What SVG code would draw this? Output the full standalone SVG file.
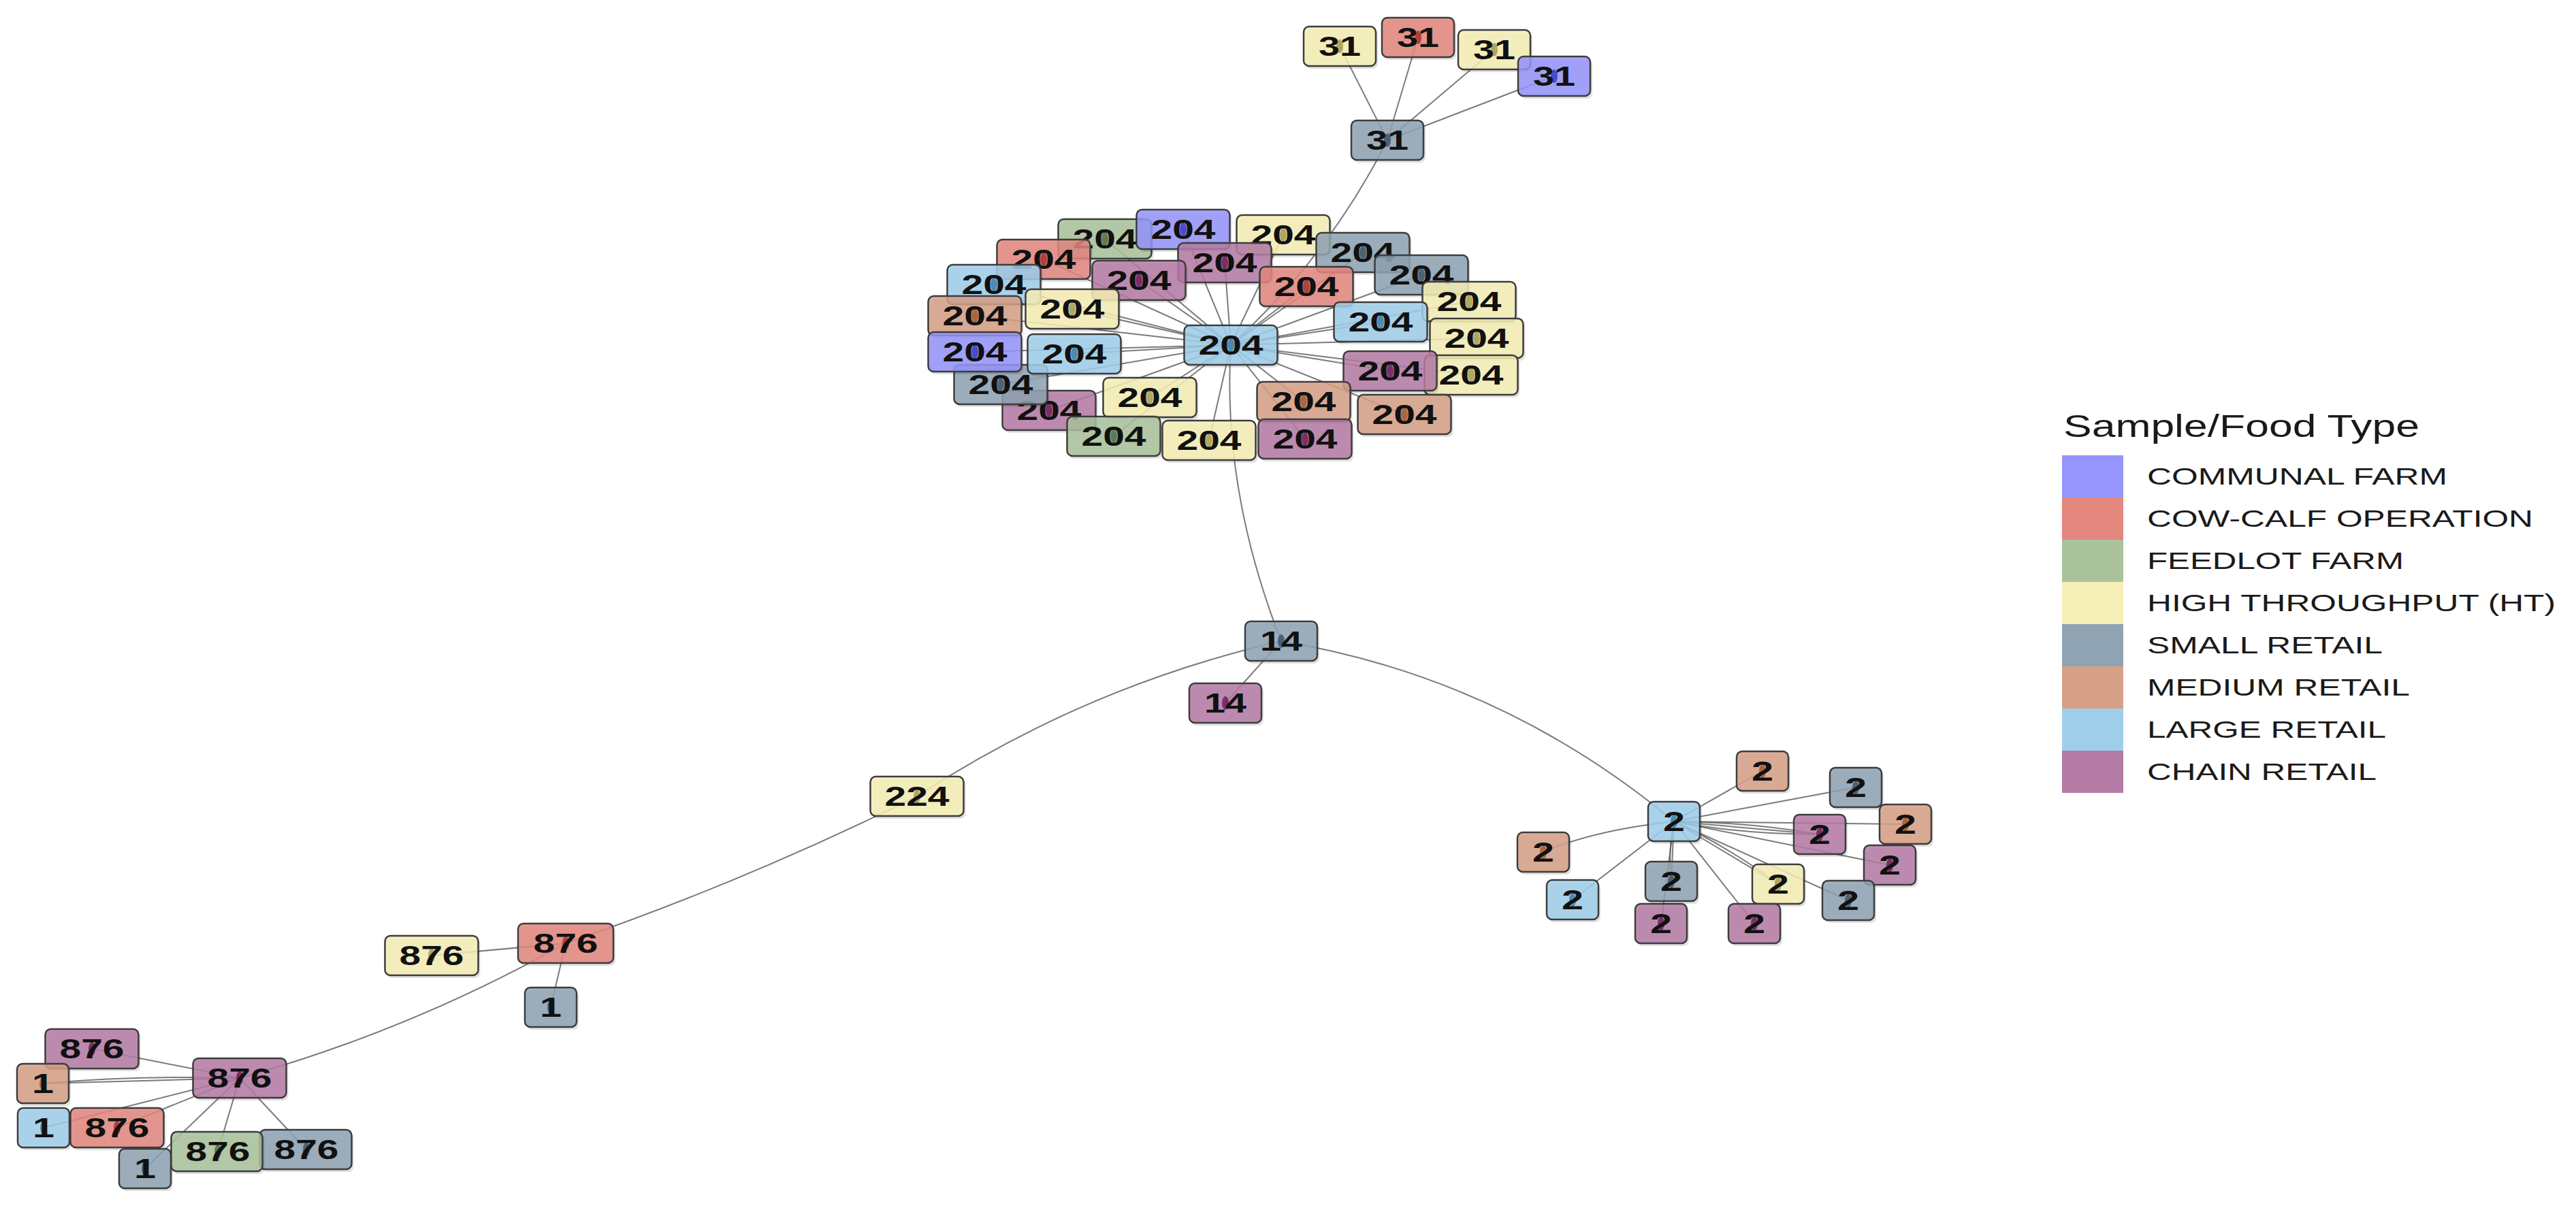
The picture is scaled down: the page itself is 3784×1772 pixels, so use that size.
<svg xmlns="http://www.w3.org/2000/svg" width="3784" height="1772" viewBox="0 0 3784 1772">
<style>
.bg{fill:#ffffff}
.e{fill:none;stroke:#5a5a5a;stroke-width:2;stroke-opacity:0.8}
.sh{fill:#000;opacity:0.12}
.nb{stroke:#3d3d3d;stroke-width:2.5;fill-opacity:0.86}
.comm{fill:#9595fb}.cow{fill:#e3877f}.feed{fill:#a9c29b}.ht{fill:#f6efb6}
.small{fill:#8fa3b3}.med{fill:#d6a086}.large{fill:#9fceeb}.chain{fill:#b47ba5}
.d-comm{fill:#3c3cc8}.d-cow{fill:#a8322a}.d-feed{fill:#4f6e45}.d-ht{fill:#a39a55}
.d-small{fill:#3f5668}.d-med{fill:#a35a30}.d-large{fill:#3e7fa6}.d-chain{fill:#6d1f5a}
.dot{opacity:0.85}
.lb{font-family:"Liberation Sans",Arial,sans-serif;font-weight:bold;font-size:40px;text-anchor:middle;fill:#111}
.lg{font-family:"Liberation Sans",Arial,sans-serif;font-size:35px;fill:#1a1a1a}
.lt{font-family:"Liberation Sans",Arial,sans-serif;font-size:46px;fill:#1a1a1a}
</style>
<rect class="bg" x="0" y="0" width="3784" height="1772"/>

<g id="connectors">
<!-- 31 cluster -->
<line class="e" x1="2038" y1="206" x2="1968" y2="68"/>
<line class="e" x1="2038" y1="206" x2="2083" y2="55"/>
<line class="e" x1="2038" y1="206" x2="2195" y2="73"/>
<line class="e" x1="2038" y1="206" x2="2283" y2="112"/>
<path class="e" d="M1808,507 Q1950,380 2038,206"/>
<!-- 204 hub spokes -->
<line class="e" x1="1808" y1="507" x2="1623" y2="351"/>
<line class="e" x1="1808" y1="507" x2="1738" y2="337"/>
<line class="e" x1="1808" y1="507" x2="1885" y2="345"/>
<line class="e" x1="1808" y1="507" x2="2002" y2="371"/>
<line class="e" x1="1808" y1="507" x2="2088" y2="404"/>
<line class="e" x1="1808" y1="507" x2="1533" y2="381"/>
<line class="e" x1="1808" y1="507" x2="1799" y2="386"/>
<line class="e" x1="1808" y1="507" x2="1673" y2="412"/>
<line class="e" x1="1808" y1="507" x2="1919" y2="421"/>
<line class="e" x1="1808" y1="507" x2="1460" y2="418"/>
<line class="e" x1="1808" y1="507" x2="1575" y2="454"/>
<line class="e" x1="1808" y1="507" x2="1432" y2="464"/>
<line class="e" x1="1808" y1="507" x2="2158" y2="443"/>
<line class="e" x1="1808" y1="507" x2="2028" y2="473"/>
<line class="e" x1="1808" y1="507" x2="2169" y2="497"/>
<line class="e" x1="1808" y1="507" x2="1432" y2="517"/>
<line class="e" x1="1808" y1="507" x2="1578" y2="520"/>
<line class="e" x1="1808" y1="507" x2="1470" y2="565"/>
<line class="e" x1="1808" y1="507" x2="2042" y2="545"/>
<line class="e" x1="1808" y1="507" x2="2161" y2="551"/>
<line class="e" x1="1808" y1="507" x2="1541" y2="603"/>
<line class="e" x1="1808" y1="507" x2="1689" y2="584"/>
<line class="e" x1="1808" y1="507" x2="1915" y2="590"/>
<line class="e" x1="1808" y1="507" x2="2063" y2="609"/>
<line class="e" x1="1808" y1="507" x2="1636" y2="641"/>
<line class="e" x1="1808" y1="507" x2="1776" y2="647"/>
<line class="e" x1="1808" y1="507" x2="1917" y2="645"/>
<!-- backbone -->
<path class="e" d="M1808,507 Q1795,720 1882,942"/>
<line class="e" x1="1882" y1="942" x2="1800" y2="1033"/>
<path class="e" d="M1882,942 Q1595,1008 1347,1170"/>
<path class="e" d="M1347,1170 Q1095,1295 831,1386"/>
<path class="e" d="M831,1386 Q603,1514 352,1584"/>
<path class="e" d="M1882,942 Q2206,996 2459,1207"/>
<!-- 876 red spokes -->
<line class="e" x1="831" y1="1386" x2="634" y2="1404"/>
<line class="e" x1="831" y1="1386" x2="809" y2="1480"/>
<!-- 876 hub spokes -->
<line class="e" x1="352" y1="1584" x2="135" y2="1541"/>
<line class="e" x1="352" y1="1584" x2="63" y2="1592"/>
<path class="e" d="M352,1584 Q200,1580 63,1592"/>
<line class="e" x1="352" y1="1584" x2="64" y2="1657"/>
<line class="e" x1="352" y1="1584" x2="172" y2="1657"/>
<line class="e" x1="352" y1="1584" x2="213" y2="1717"/>
<line class="e" x1="352" y1="1584" x2="320" y2="1692"/>
<line class="e" x1="352" y1="1584" x2="450" y2="1689"/>
<!-- 2 hub spokes -->
<line class="e" x1="2459" y1="1207" x2="2589" y2="1133"/>
<line class="e" x1="2459" y1="1207" x2="2726" y2="1157"/>
<line class="e" x1="2459" y1="1207" x2="2799" y2="1211"/>
<line class="e" x1="2459" y1="1207" x2="2673" y2="1226"/>
<path class="e" d="M2459,1207 Q2570,1208 2673,1226"/>
<path class="e" d="M2459,1207 Q2560,1226 2673,1226"/>
<line class="e" x1="2459" y1="1207" x2="2776" y2="1271"/>
<line class="e" x1="2459" y1="1207" x2="2715" y2="1323"/>
<line class="e" x1="2459" y1="1207" x2="2612" y2="1299"/>
<path class="e" d="M2459,1207 Q2540,1245 2612,1299"/>
<line class="e" x1="2459" y1="1207" x2="2577" y2="1357"/>
<line class="e" x1="2459" y1="1207" x2="2440" y2="1357"/>
<line class="e" x1="2459" y1="1207" x2="2455" y2="1295"/>
<path class="e" d="M2459,1207 Q2450,1250 2455,1295"/>
<line class="e" x1="2459" y1="1207" x2="2310" y2="1322"/>
<path class="e" d="M2459,1207 Q2340,1220 2267,1252"/>
</g>

<!-- 31 cluster -->
<g id="n31_grey"><rect class="sh" x="1988" y="181" width="106" height="58" rx="8"/><rect class="nb small" x="1985" y="177" width="106" height="58" rx="8"/><ellipse class="dot d-small" cx="2038" cy="206" rx="5" ry="10"/><text class="lb" x="2038" y="220" textLength="62" lengthAdjust="spacingAndGlyphs">31</text></g>
<g id="n31_ht1"><rect class="sh" x="1918" y="43" width="106" height="58" rx="8"/><rect class="nb ht" x="1915" y="39" width="106" height="58" rx="8"/><ellipse class="dot d-ht" cx="1968" cy="68" rx="5" ry="10"/><text class="lb" x="1968" y="82" textLength="62" lengthAdjust="spacingAndGlyphs">31</text></g>
<g id="n31_cow"><rect class="sh" x="2033" y="30" width="106" height="58" rx="8"/><rect class="nb cow" x="2030" y="26" width="106" height="58" rx="8"/><ellipse class="dot d-cow" cx="2083" cy="55" rx="5" ry="10"/><text class="lb" x="2083" y="69" textLength="62" lengthAdjust="spacingAndGlyphs">31</text></g>
<g id="n31_ht2"><rect class="sh" x="2145" y="48" width="106" height="58" rx="8"/><rect class="nb ht" x="2142" y="44" width="106" height="58" rx="8"/><ellipse class="dot d-ht" cx="2195" cy="73" rx="5" ry="10"/><text class="lb" x="2195" y="87" textLength="62" lengthAdjust="spacingAndGlyphs">31</text></g>
<g id="n31_comm"><rect class="sh" x="2233" y="87" width="106" height="58" rx="8"/><rect class="nb comm" x="2230" y="83" width="106" height="58" rx="8"/><ellipse class="dot d-comm" cx="2283" cy="112" rx="5" ry="10"/><text class="lb" x="2283" y="126" textLength="62" lengthAdjust="spacingAndGlyphs">31</text></g>

<!-- 204 cluster -->
<g id="n204_01"><rect class="sh" x="1557.5" y="326" width="137" height="58" rx="8"/><rect class="nb feed" x="1554.5" y="322" width="137" height="58" rx="8"/><ellipse class="dot d-feed" cx="1623" cy="351" rx="5" ry="10"/><text class="lb" x="1623" y="365" textLength="95" lengthAdjust="spacingAndGlyphs">204</text></g>
<g id="n204_02"><rect class="sh" x="1672.5" y="312" width="137" height="58" rx="8"/><rect class="nb comm" x="1669.5" y="308" width="137" height="58" rx="8"/><ellipse class="dot d-comm" cx="1738" cy="337" rx="5" ry="10"/><text class="lb" x="1738" y="351" textLength="95" lengthAdjust="spacingAndGlyphs">204</text></g>
<g id="n204_03"><rect class="sh" x="1819.5" y="320" width="137" height="58" rx="8"/><rect class="nb ht" x="1816.5" y="316" width="137" height="58" rx="8"/><ellipse class="dot d-ht" cx="1885" cy="345" rx="5" ry="10"/><text class="lb" x="1885" y="359" textLength="95" lengthAdjust="spacingAndGlyphs">204</text></g>
<g id="n204_06"><rect class="sh" x="1467.5" y="356" width="137" height="58" rx="8"/><rect class="nb cow" x="1464.5" y="352" width="137" height="58" rx="8"/><ellipse class="dot d-cow" cx="1533" cy="381" rx="5" ry="10"/><text class="lb" x="1533" y="395" textLength="95" lengthAdjust="spacingAndGlyphs">204</text></g>
<g id="n204_07"><rect class="sh" x="1733.5" y="361" width="137" height="58" rx="8"/><rect class="nb chain" x="1730.5" y="357" width="137" height="58" rx="8"/><ellipse class="dot d-chain" cx="1799" cy="386" rx="5" ry="10"/><text class="lb" x="1799" y="400" textLength="95" lengthAdjust="spacingAndGlyphs">204</text></g>
<g id="n204_04"><rect class="sh" x="1936.5" y="346" width="137" height="58" rx="8"/><rect class="nb small" x="1933.5" y="342" width="137" height="58" rx="8"/><ellipse class="dot d-small" cx="2002" cy="371" rx="5" ry="10"/><text class="lb" x="2002" y="385" textLength="95" lengthAdjust="spacingAndGlyphs">204</text></g>
<g id="n204_05"><rect class="sh" x="2022.5" y="379" width="137" height="58" rx="8"/><rect class="nb small" x="2019.5" y="375" width="137" height="58" rx="8"/><ellipse class="dot d-small" cx="2088" cy="404" rx="5" ry="10"/><text class="lb" x="2088" y="418" textLength="95" lengthAdjust="spacingAndGlyphs">204</text></g>
<g id="n204_08"><rect class="sh" x="1607.5" y="387" width="137" height="58" rx="8"/><rect class="nb chain" x="1604.5" y="383" width="137" height="58" rx="8"/><ellipse class="dot d-chain" cx="1673" cy="412" rx="5" ry="10"/><text class="lb" x="1673" y="426" textLength="95" lengthAdjust="spacingAndGlyphs">204</text></g>
<g id="n204_09"><rect class="sh" x="1853.5" y="396" width="137" height="58" rx="8"/><rect class="nb cow" x="1850.5" y="392" width="137" height="58" rx="8"/><ellipse class="dot d-cow" cx="1919" cy="421" rx="5" ry="10"/><text class="lb" x="1919" y="435" textLength="95" lengthAdjust="spacingAndGlyphs">204</text></g>
<g id="n204_10"><rect class="sh" x="1394.5" y="393" width="137" height="58" rx="8"/><rect class="nb large" x="1391.5" y="389" width="137" height="58" rx="8"/><ellipse class="dot d-large" cx="1460" cy="418" rx="5" ry="10"/><text class="lb" x="1460" y="432" textLength="95" lengthAdjust="spacingAndGlyphs">204</text></g>
<g id="n204_11"><rect class="sh" x="1509.5" y="429" width="137" height="58" rx="8"/><rect class="nb ht" x="1506.5" y="425" width="137" height="58" rx="8"/><ellipse class="dot d-ht" cx="1575" cy="454" rx="5" ry="10"/><text class="lb" x="1575" y="468" textLength="95" lengthAdjust="spacingAndGlyphs">204</text></g>
<g id="n204_12"><rect class="sh" x="1366.5" y="439" width="137" height="58" rx="8"/><rect class="nb med" x="1363.5" y="435" width="137" height="58" rx="8"/><ellipse class="dot d-med" cx="1432" cy="464" rx="5" ry="10"/><text class="lb" x="1432" y="478" textLength="95" lengthAdjust="spacingAndGlyphs">204</text></g>
<g id="n204_13"><rect class="sh" x="2092.5" y="418" width="137" height="58" rx="8"/><rect class="nb ht" x="2089.5" y="414" width="137" height="58" rx="8"/><ellipse class="dot d-ht" cx="2158" cy="443" rx="5" ry="10"/><text class="lb" x="2158" y="457" textLength="95" lengthAdjust="spacingAndGlyphs">204</text></g>
<g id="n204_14"><rect class="sh" x="1962.5" y="448" width="137" height="58" rx="8"/><rect class="nb large" x="1959.5" y="444" width="137" height="58" rx="8"/><ellipse class="dot d-large" cx="2028" cy="473" rx="5" ry="10"/><text class="lb" x="2028" y="487" textLength="95" lengthAdjust="spacingAndGlyphs">204</text></g>
<g id="n204_15"><rect class="sh" x="2103.5" y="472" width="137" height="58" rx="8"/><rect class="nb ht" x="2100.5" y="468" width="137" height="58" rx="8"/><ellipse class="dot d-ht" cx="2169" cy="497" rx="5" ry="10"/><text class="lb" x="2169" y="511" textLength="95" lengthAdjust="spacingAndGlyphs">204</text></g>
<g id="n204_22"><rect class="sh" x="1475.5" y="578" width="137" height="58" rx="8"/><rect class="nb chain" x="1472.5" y="574" width="137" height="58" rx="8"/><ellipse class="dot d-chain" cx="1541" cy="603" rx="5" ry="10"/><text class="lb" x="1541" y="617" textLength="95" lengthAdjust="spacingAndGlyphs">204</text></g>
<g id="n204_19"><rect class="sh" x="1404.5" y="540" width="137" height="58" rx="8"/><rect class="nb small" x="1401.5" y="536" width="137" height="58" rx="8"/><ellipse class="dot d-small" cx="1470" cy="565" rx="5" ry="10"/><text class="lb" x="1470" y="579" textLength="95" lengthAdjust="spacingAndGlyphs">204</text></g>
<g id="n204_16"><rect class="sh" x="1366.5" y="492" width="137" height="58" rx="8"/><rect class="nb comm" x="1363.5" y="488" width="137" height="58" rx="8"/><ellipse class="dot d-comm" cx="1432" cy="517" rx="5" ry="10"/><text class="lb" x="1432" y="531" textLength="95" lengthAdjust="spacingAndGlyphs">204</text></g>
<g id="n204_17"><rect class="sh" x="1512.5" y="495" width="137" height="58" rx="8"/><rect class="nb large" x="1509.5" y="491" width="137" height="58" rx="8"/><ellipse class="dot d-large" cx="1578" cy="520" rx="5" ry="10"/><text class="lb" x="1578" y="534" textLength="95" lengthAdjust="spacingAndGlyphs">204</text></g>
<g id="n204_21"><rect class="sh" x="2095.5" y="526" width="137" height="58" rx="8"/><rect class="nb ht" x="2092.5" y="522" width="137" height="58" rx="8"/><ellipse class="dot d-ht" cx="2161" cy="551" rx="5" ry="10"/><text class="lb" x="2161" y="565" textLength="95" lengthAdjust="spacingAndGlyphs">204</text></g>
<g id="n204_20"><rect class="sh" x="1976.5" y="520" width="137" height="58" rx="8"/><rect class="nb chain" x="1973.5" y="516" width="137" height="58" rx="8"/><ellipse class="dot d-chain" cx="2042" cy="545" rx="5" ry="10"/><text class="lb" x="2042" y="559" textLength="95" lengthAdjust="spacingAndGlyphs">204</text></g>
<g id="n204_23"><rect class="sh" x="1623.5" y="559" width="137" height="58" rx="8"/><rect class="nb ht" x="1620.5" y="555" width="137" height="58" rx="8"/><ellipse class="dot d-ht" cx="1689" cy="584" rx="5" ry="10"/><text class="lb" x="1689" y="598" textLength="95" lengthAdjust="spacingAndGlyphs">204</text></g>
<g id="n204_24"><rect class="sh" x="1849.5" y="565" width="137" height="58" rx="8"/><rect class="nb med" x="1846.5" y="561" width="137" height="58" rx="8"/><ellipse class="dot d-med" cx="1915" cy="590" rx="5" ry="10"/><text class="lb" x="1915" y="604" textLength="95" lengthAdjust="spacingAndGlyphs">204</text></g>
<g id="n204_25"><rect class="sh" x="1997.5" y="584" width="137" height="58" rx="8"/><rect class="nb med" x="1994.5" y="580" width="137" height="58" rx="8"/><ellipse class="dot d-med" cx="2063" cy="609" rx="5" ry="10"/><text class="lb" x="2063" y="623" textLength="95" lengthAdjust="spacingAndGlyphs">204</text></g>
<g id="n204_26"><rect class="sh" x="1570.5" y="616" width="137" height="58" rx="8"/><rect class="nb feed" x="1567.5" y="612" width="137" height="58" rx="8"/><ellipse class="dot d-feed" cx="1636" cy="641" rx="5" ry="10"/><text class="lb" x="1636" y="655" textLength="95" lengthAdjust="spacingAndGlyphs">204</text></g>
<g id="n204_27"><rect class="sh" x="1710.5" y="622" width="137" height="58" rx="8"/><rect class="nb ht" x="1707.5" y="618" width="137" height="58" rx="8"/><ellipse class="dot d-ht" cx="1776" cy="647" rx="5" ry="10"/><text class="lb" x="1776" y="661" textLength="95" lengthAdjust="spacingAndGlyphs">204</text></g>
<g id="n204_28"><rect class="sh" x="1851.5" y="620" width="137" height="58" rx="8"/><rect class="nb chain" x="1848.5" y="616" width="137" height="58" rx="8"/><ellipse class="dot d-chain" cx="1917" cy="645" rx="5" ry="10"/><text class="lb" x="1917" y="659" textLength="95" lengthAdjust="spacingAndGlyphs">204</text></g>
<g id="n204_hub"><rect class="sh" x="1742.5" y="482" width="137" height="58" rx="8"/><rect class="nb large" x="1739.5" y="478" width="137" height="58" rx="8"/><ellipse class="dot d-large" cx="1808" cy="507" rx="5" ry="10"/><text class="lb" x="1808" y="521" textLength="95" lengthAdjust="spacingAndGlyphs">204</text></g>

<!-- 14 -->
<g id="n14_grey"><rect class="sh" x="1832" y="917" width="106" height="58" rx="8"/><rect class="nb small" x="1829" y="913" width="106" height="58" rx="8"/><ellipse class="dot d-small" cx="1882" cy="942" rx="5" ry="10"/><text class="lb" x="1882" y="956" textLength="62" lengthAdjust="spacingAndGlyphs">14</text></g>
<g id="n14_chain"><rect class="sh" x="1750" y="1008" width="106" height="58" rx="8"/><rect class="nb chain" x="1747" y="1004" width="106" height="58" rx="8"/><ellipse class="dot d-chain" cx="1800" cy="1033" rx="5" ry="10"/><text class="lb" x="1800" y="1047" textLength="62" lengthAdjust="spacingAndGlyphs">14</text></g>
<!-- 224 -->
<g id="n224"><rect class="sh" x="1281.5" y="1145" width="137" height="58" rx="8"/><rect class="nb ht" x="1278.5" y="1141" width="137" height="58" rx="8"/><ellipse class="dot d-ht" cx="1347" cy="1170" rx="5" ry="10"/><text class="lb" x="1347" y="1184" textLength="95" lengthAdjust="spacingAndGlyphs">224</text></g>
<!-- 876 red group -->
<g id="n876_cow"><rect class="sh" x="764" y="1361" width="140" height="58" rx="8"/><rect class="nb cow" x="761" y="1357" width="140" height="58" rx="8"/><ellipse class="dot d-cow" cx="831" cy="1386" rx="5" ry="10"/><text class="lb" x="831" y="1400" textLength="95" lengthAdjust="spacingAndGlyphs">876</text></g>
<g id="n876_ht"><rect class="sh" x="568.5" y="1379" width="137" height="58" rx="8"/><rect class="nb ht" x="565.5" y="1375" width="137" height="58" rx="8"/><ellipse class="dot d-ht" cx="634" cy="1404" rx="5" ry="10"/><text class="lb" x="634" y="1418" textLength="95" lengthAdjust="spacingAndGlyphs">876</text></g>
<g id="n1_small_a"><rect class="sh" x="774" y="1455" width="76" height="58" rx="8"/><rect class="nb small" x="771" y="1451" width="76" height="58" rx="8"/><ellipse class="dot d-small" cx="809" cy="1480" rx="5" ry="10"/><text class="lb" x="809" y="1494" textLength="32" lengthAdjust="spacingAndGlyphs">1</text></g>

<!-- 876 hub cluster -->
<g id="n876_chain_top"><rect class="sh" x="69.5" y="1516" width="137" height="58" rx="8"/><rect class="nb chain" x="66.5" y="1512" width="137" height="58" rx="8"/><ellipse class="dot d-chain" cx="135" cy="1541" rx="5" ry="10"/><text class="lb" x="135" y="1555" textLength="95" lengthAdjust="spacingAndGlyphs">876</text></g>
<g id="n1_med"><rect class="sh" x="28" y="1567" width="76" height="58" rx="8"/><rect class="nb med" x="25" y="1563" width="76" height="58" rx="8"/><ellipse class="dot d-med" cx="63" cy="1592" rx="5" ry="10"/><text class="lb" x="63" y="1606" textLength="32" lengthAdjust="spacingAndGlyphs">1</text></g>
<g id="n1_large"><rect class="sh" x="29" y="1632" width="76" height="58" rx="8"/><rect class="nb large" x="26" y="1628" width="76" height="58" rx="8"/><ellipse class="dot d-large" cx="64" cy="1657" rx="5" ry="10"/><text class="lb" x="64" y="1671" textLength="32" lengthAdjust="spacingAndGlyphs">1</text></g>
<g id="n876_cow_b"><rect class="sh" x="106.5" y="1632" width="137" height="58" rx="8"/><rect class="nb cow" x="103.5" y="1628" width="137" height="58" rx="8"/><ellipse class="dot d-cow" cx="172" cy="1657" rx="5" ry="10"/><text class="lb" x="172" y="1671" textLength="95" lengthAdjust="spacingAndGlyphs">876</text></g>
<g id="n1_small_b"><rect class="sh" x="178" y="1692" width="76" height="58" rx="8"/><rect class="nb small" x="175" y="1688" width="76" height="58" rx="8"/><ellipse class="dot d-small" cx="213" cy="1717" rx="5" ry="10"/><text class="lb" x="213" y="1731" textLength="32" lengthAdjust="spacingAndGlyphs">1</text></g>
<g id="n876_small"><rect class="sh" x="384.5" y="1664" width="135" height="58" rx="8"/><rect class="nb small" x="381.5" y="1660" width="135" height="58" rx="8"/><ellipse class="dot d-small" cx="450" cy="1689" rx="5" ry="10"/><text class="lb" x="450" y="1703" textLength="95" lengthAdjust="spacingAndGlyphs">876</text></g>
<g id="n876_feed"><rect class="sh" x="254.5" y="1667" width="134" height="58" rx="8"/><rect class="nb feed" x="251.5" y="1663" width="134" height="58" rx="8"/><ellipse class="dot d-feed" cx="320" cy="1692" rx="5" ry="10"/><text class="lb" x="320" y="1706" textLength="95" lengthAdjust="spacingAndGlyphs">876</text></g>
<g id="n876_hub"><rect class="sh" x="286.5" y="1559" width="137" height="58" rx="8"/><rect class="nb chain" x="283.5" y="1555" width="137" height="58" rx="8"/><ellipse class="dot d-chain" cx="352" cy="1584" rx="5" ry="10"/><text class="lb" x="352" y="1598" textLength="95" lengthAdjust="spacingAndGlyphs">876</text></g>

<!-- 2 cluster -->
<g id="n2_med_top"><rect class="sh" x="2554" y="1108" width="76" height="58" rx="8"/><rect class="nb med" x="2551" y="1104" width="76" height="58" rx="8"/><ellipse class="dot d-med" cx="2589" cy="1133" rx="5" ry="10"/><text class="lb" x="2589" y="1147" textLength="32" lengthAdjust="spacingAndGlyphs">2</text></g>
<g id="n2_small_tr"><rect class="sh" x="2691" y="1132" width="76" height="58" rx="8"/><rect class="nb small" x="2688" y="1128" width="76" height="58" rx="8"/><ellipse class="dot d-small" cx="2726" cy="1157" rx="5" ry="10"/><text class="lb" x="2726" y="1171" textLength="32" lengthAdjust="spacingAndGlyphs">2</text></g>
<g id="n2_med_r"><rect class="sh" x="2764" y="1186" width="76" height="58" rx="8"/><rect class="nb med" x="2761" y="1182" width="76" height="58" rx="8"/><ellipse class="dot d-med" cx="2799" cy="1211" rx="5" ry="10"/><text class="lb" x="2799" y="1225" textLength="32" lengthAdjust="spacingAndGlyphs">2</text></g>
<g id="n2_chain_mid"><rect class="sh" x="2638" y="1201" width="76" height="58" rx="8"/><rect class="nb chain" x="2635" y="1197" width="76" height="58" rx="8"/><ellipse class="dot d-chain" cx="2673" cy="1226" rx="5" ry="10"/><text class="lb" x="2673" y="1240" textLength="32" lengthAdjust="spacingAndGlyphs">2</text></g>
<g id="n2_chain_rl"><rect class="sh" x="2741" y="1246" width="76" height="58" rx="8"/><rect class="nb chain" x="2738" y="1242" width="76" height="58" rx="8"/><ellipse class="dot d-chain" cx="2776" cy="1271" rx="5" ry="10"/><text class="lb" x="2776" y="1285" textLength="32" lengthAdjust="spacingAndGlyphs">2</text></g>
<g id="n2_small_br"><rect class="sh" x="2680" y="1298" width="76" height="58" rx="8"/><rect class="nb small" x="2677" y="1294" width="76" height="58" rx="8"/><ellipse class="dot d-small" cx="2715" cy="1323" rx="5" ry="10"/><text class="lb" x="2715" y="1337" textLength="32" lengthAdjust="spacingAndGlyphs">2</text></g>
<g id="n2_ht"><rect class="sh" x="2577" y="1274" width="76" height="58" rx="8"/><rect class="nb ht" x="2574" y="1270" width="76" height="58" rx="8"/><ellipse class="dot d-ht" cx="2612" cy="1299" rx="5" ry="10"/><text class="lb" x="2612" y="1313" textLength="32" lengthAdjust="spacingAndGlyphs">2</text></g>
<g id="n2_chain_br"><rect class="sh" x="2542" y="1332" width="76" height="58" rx="8"/><rect class="nb chain" x="2539" y="1328" width="76" height="58" rx="8"/><ellipse class="dot d-chain" cx="2577" cy="1357" rx="5" ry="10"/><text class="lb" x="2577" y="1371" textLength="32" lengthAdjust="spacingAndGlyphs">2</text></g>
<g id="n2_chain_bl"><rect class="sh" x="2405" y="1332" width="76" height="58" rx="8"/><rect class="nb chain" x="2402" y="1328" width="76" height="58" rx="8"/><ellipse class="dot d-chain" cx="2440" cy="1357" rx="5" ry="10"/><text class="lb" x="2440" y="1371" textLength="32" lengthAdjust="spacingAndGlyphs">2</text></g>
<g id="n2_small_b"><rect class="sh" x="2420" y="1270" width="76" height="58" rx="8"/><rect class="nb small" x="2417" y="1266" width="76" height="58" rx="8"/><ellipse class="dot d-small" cx="2455" cy="1295" rx="5" ry="10"/><text class="lb" x="2455" y="1309" textLength="32" lengthAdjust="spacingAndGlyphs">2</text></g>
<g id="n2_large_ll"><rect class="sh" x="2275" y="1297" width="76" height="58" rx="8"/><rect class="nb large" x="2272" y="1293" width="76" height="58" rx="8"/><ellipse class="dot d-large" cx="2310" cy="1322" rx="5" ry="10"/><text class="lb" x="2310" y="1336" textLength="32" lengthAdjust="spacingAndGlyphs">2</text></g>
<g id="n2_med_l"><rect class="sh" x="2232" y="1227" width="76" height="58" rx="8"/><rect class="nb med" x="2229" y="1223" width="76" height="58" rx="8"/><ellipse class="dot d-med" cx="2267" cy="1252" rx="5" ry="10"/><text class="lb" x="2267" y="1266" textLength="32" lengthAdjust="spacingAndGlyphs">2</text></g>
<g id="n2_hub"><rect class="sh" x="2424" y="1182" width="76" height="58" rx="8"/><rect class="nb large" x="2421" y="1178" width="76" height="58" rx="8"/><ellipse class="dot d-large" cx="2459" cy="1207" rx="5" ry="10"/><text class="lb" x="2459" y="1221" textLength="32" lengthAdjust="spacingAndGlyphs">2</text></g>

<!-- legend -->
<g id="legend">
<text class="lt" x="3031" y="642" textLength="523" lengthAdjust="spacingAndGlyphs">Sample/Food Type</text>
<rect class="comm" x="3029" y="669" width="90" height="62"/>
<rect class="cow" x="3029" y="731" width="90" height="62"/>
<rect class="feed" x="3029" y="793" width="90" height="62"/>
<rect class="ht" x="3029" y="855" width="90" height="62"/>
<rect class="small" x="3029" y="917" width="90" height="62"/>
<rect class="med" x="3029" y="979" width="90" height="62"/>
<rect class="large" x="3029" y="1041" width="90" height="62"/>
<rect class="chain" x="3029" y="1103" width="90" height="62"/>
<text class="lg" x="3154" y="712" textLength="441" lengthAdjust="spacingAndGlyphs">COMMUNAL FARM</text>
<text class="lg" x="3154" y="774" textLength="567" lengthAdjust="spacingAndGlyphs">COW-CALF OPERATION</text>
<text class="lg" x="3154" y="836" textLength="377" lengthAdjust="spacingAndGlyphs">FEEDLOT FARM</text>
<text class="lg" x="3154" y="898" textLength="600" lengthAdjust="spacingAndGlyphs">HIGH THROUGHPUT (HT)</text>
<text class="lg" x="3154" y="960" textLength="346" lengthAdjust="spacingAndGlyphs">SMALL RETAIL</text>
<text class="lg" x="3154" y="1022" textLength="386" lengthAdjust="spacingAndGlyphs">MEDIUM RETAIL</text>
<text class="lg" x="3154" y="1084" textLength="351" lengthAdjust="spacingAndGlyphs">LARGE RETAIL</text>
<text class="lg" x="3154" y="1146" textLength="337" lengthAdjust="spacingAndGlyphs">CHAIN RETAIL</text>
</g>
</svg>
